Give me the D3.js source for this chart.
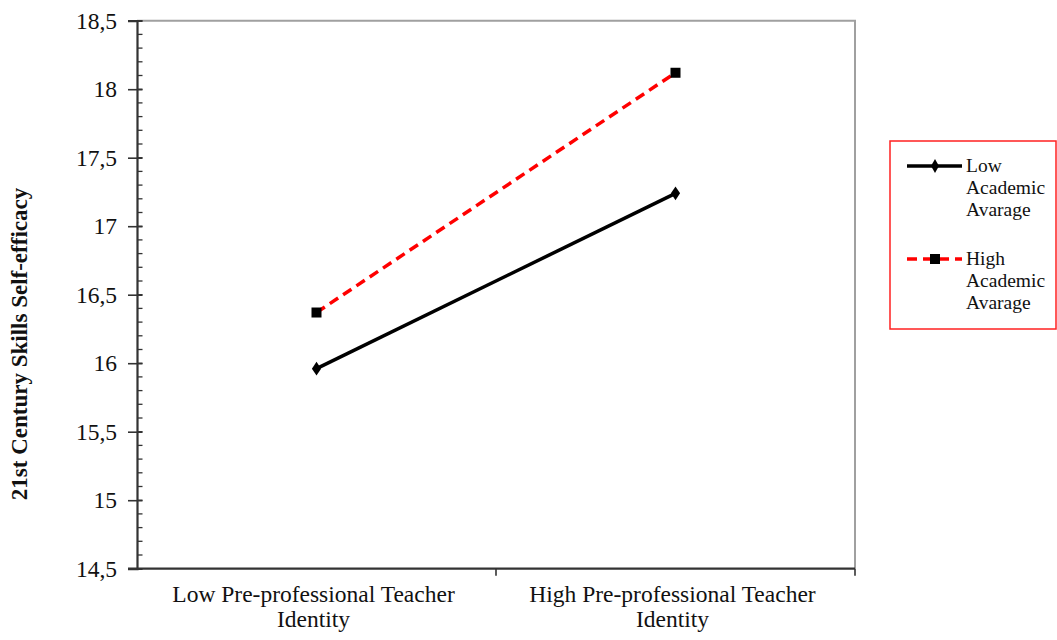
<!DOCTYPE html>
<html lang="en">
<head>
<meta charset="UTF-8">
<title>Self-efficacy interaction</title>
<style>
    html, body { margin: 0; padding: 0; background: #fff; }
    svg { display: block; font-family: "Liberation Serif", "Times New Roman", serif; }
</style>
</head>
<body>
<div id="chart"></div>
<script src="https://cdn.jsdelivr.net/npm/d3@7"></script>
<script>
// data
const categories = ["Low Pre-professional Teacher Identity", "High Pre-professional Teacher Identity"];
const categoryLines = [["Low Pre-professional Teacher", "Identity"], ["High Pre-professional Teacher", "Identity"]];
const lowAcademic = [15.96, 17.24];
const highAcademic = [16.37, 18.12];
const yTicks = [14.5, 15, 15.5, 16, 16.5, 17, 17.5, 18, 18.5];
const seriesNames = [["Low", "Academic", "Avarage"], ["High", "Academic", "Avarage"]];

const width = 1057, height = 640;
const plot = {left: 137, right: 855, top: 20.7, bottom: 568.7};

const svg = d3.select("#chart").append("svg")
    .attr("width", width)
    .attr("height", height);

const x = d3.scalePoint().domain(categories).range([plot.left, plot.right]).padding(0.5);
const y = d3.scaleLinear().domain([14.5, 18.5]).range([plot.bottom, plot.top]);

// grey frame top / right
svg.append("path")
    .attr("d", `M${plot.left},${plot.top}H${plot.right}V${plot.bottom}`)
    .attr("fill", "none")
    .attr("stroke", "#a0a0a0")
    .attr("stroke-width", 2);

// minor ticks every 0.1 (inside)
const minor = d3.range(14.5, 18.5001, 0.1);
svg.append("g").selectAll("line").data(minor).join("line")
    .attr("x1", plot.left).attr("x2", plot.left + 5.5)
    .attr("y1", d => y(d)).attr("y2", d => y(d))
    .attr("stroke", "#333").attr("stroke-width", 1.3);

// y axis
const yAxis = svg.append("g")
    .attr("transform", `translate(${plot.left},0)`)
    .call(d3.axisLeft(y).tickValues(yTicks).tickSize(9).tickPadding(11)
        .tickFormat(d => String(d).replace(".", ",")));
yAxis.select(".domain").attr("stroke", "#333").attr("stroke-width", 2.2);
yAxis.selectAll(".tick line").attr("stroke", "#333").attr("stroke-width", 1.6);
yAxis.selectAll(".tick").append("line")
    .attr("x1", 0).attr("x2", 5.5).attr("stroke", "#333").attr("stroke-width", 1.6);
yAxis.selectAll(".tick text")
    .attr("font-family", "Liberation Serif").attr("font-size", 23.5).attr("fill", "#111");

// x axis
svg.append("line")
    .attr("x1", plot.left - 9).attr("x2", plot.right)
    .attr("y1", plot.bottom).attr("y2", plot.bottom)
    .attr("stroke", "#333").attr("stroke-width", 2.2);
const xBound = [(x(categories[0]) + x(categories[1])) / 2, plot.right];
svg.append("g").selectAll("line").data(xBound).join("line")
    .attr("x1", d => d).attr("x2", d => d)
    .attr("y1", plot.bottom).attr("y2", plot.bottom + 7)
    .attr("stroke", "#333").attr("stroke-width", 1.6);

const xLab = svg.append("g").selectAll("text").data(categories).join("text")
    .attr("x", d => x(d) - 3)
    .attr("text-anchor", "middle")
    .attr("font-size", 23.5)
    .attr("fill", "#111");
xLab.selectAll("tspan").data((d, i) => categoryLines[i]).join("tspan")
    .attr("x", function () { return this.parentNode.getAttribute("x"); })
    .attr("y", (d, j) => 602 + j * 25)
    .text(d => d);

// y title
svg.append("text")
    .attr("transform", `translate(27,${344}) rotate(-90)`)
    .attr("text-anchor", "middle")
    .attr("font-size", 23)
    .attr("font-weight", "bold")
    .attr("fill", "#111")
    .text("21st Century Skills Self-efficacy");

// lines
const line = d3.line().x((d, i) => x(categories[i])).y(d => y(d));

svg.append("path").datum(lowAcademic)
    .attr("d", line).attr("fill", "none")
    .attr("stroke", "#000").attr("stroke-width", 3.5);

svg.append("path").datum(highAcademic)
    .attr("d", line).attr("fill", "none")
    .attr("stroke", "#ff0000").attr("stroke-width", 3.5)
    .attr("stroke-dasharray", "10,6");

const diamond = d3.symbol().type(d3.symbolDiamond).size(55);
svg.append("g").selectAll("path").data(lowAcademic).join("path")
    .attr("d", diamond)
    .attr("transform", (d, i) => `translate(${x(categories[i])},${y(d)}) scale(1.15,1)`)
    .attr("fill", "#000");

svg.append("g").selectAll("rect").data(highAcademic).join("rect")
    .attr("x", (d, i) => x(categories[i]) - 5)
    .attr("y", d => y(d) - 5)
    .attr("width", 10).attr("height", 10)
    .attr("fill", "#000");

// legend
const legend = svg.append("g");
legend.append("rect")
    .attr("x", 890).attr("y", 141)
    .attr("width", 166).attr("height", 188)
    .attr("fill", "#fff").attr("stroke", "#ff2020").attr("stroke-width", 1.5);

const legRows = [166, 259];
legend.append("line")
    .attr("x1", 907).attr("x2", 962).attr("y1", legRows[0]).attr("y2", legRows[0])
    .attr("stroke", "#000").attr("stroke-width", 3.5);
legend.append("path")
    .attr("d", diamond)
    .attr("transform", `translate(935,${legRows[0]})`)
    .attr("fill", "#000");
legend.append("line")
    .attr("x1", 907).attr("x2", 962).attr("y1", legRows[1]).attr("y2", legRows[1])
    .attr("stroke", "#ff0000").attr("stroke-width", 3.5)
    .attr("stroke-dasharray", "10,6");
legend.append("rect")
    .attr("x", 930).attr("y", legRows[1] - 5)
    .attr("width", 10).attr("height", 10)
    .attr("fill", "#000");

legend.selectAll("text.leg").data(seriesNames).join("text")
    .attr("class", "leg")
    .attr("font-size", 19.5)
    .attr("fill", "#111")
    .selectAll("tspan").data(d => d).join("tspan")
    .attr("x", 966)
    .attr("y", function (d, j) {
        const i = seriesNames.findIndex(s => s === d3.select(this.parentNode).datum());
        return legRows[i] + 6 + j * 22;
    })
    .text(d => d);
</script>
</body>
</html>
